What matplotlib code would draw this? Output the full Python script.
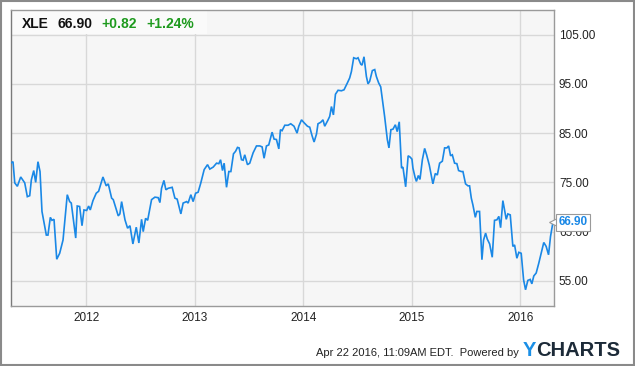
import matplotlib
matplotlib.use("Agg")
import matplotlib.pyplot as plt
from matplotlib.patches import Rectangle

plt.rcParams['font.family'] = ['Liberation Sans', 'DejaVu Sans']

ticker = "XLE"
last_price = 66.90
change = 0.82
change_pct = 1.24
timestamp = "Apr 22 2016, 11:09AM EDT.  Powered by"

years = [
    2011.308, 2011.323, 2011.339, 2011.363, 2011.394, 2011.431, 2011.455, 2011.477,
    2011.492, 2011.514, 2011.532, 2011.553, 2011.572, 2011.590, 2011.630, 2011.645,
    2011.667, 2011.682, 2011.701, 2011.726, 2011.753, 2011.784, 2011.823, 2011.845,
    2011.860, 2011.901, 2011.915, 2011.937, 2011.959, 2011.977, 2012.002, 2012.020,
    2012.035, 2012.060, 2012.090, 2012.112, 2012.152, 2012.182, 2012.201, 2012.232,
    2012.247, 2012.293, 2012.308, 2012.324, 2012.355, 2012.379, 2012.401, 2012.428,
    2012.459, 2012.483, 2012.508, 2012.523, 2012.545, 2012.564, 2012.600, 2012.631,
    2012.661, 2012.677, 2012.692, 2012.714, 2012.732, 2012.753, 2012.790, 2012.815,
    2012.836, 2012.870, 2012.891, 2012.923, 2012.937, 2012.962, 2012.983, 2013.006,
    2013.029, 2013.054, 2013.085, 2013.116, 2013.137, 2013.168, 2013.199, 2013.220,
    2013.236, 2013.254, 2013.269, 2013.291, 2013.312, 2013.331, 2013.355, 2013.374,
    2013.392, 2013.407, 2013.429, 2013.444, 2013.459, 2013.484, 2013.505, 2013.536,
    2013.567, 2013.598, 2013.619, 2013.637, 2013.659, 2013.680, 2013.711, 2013.729,
    2013.751, 2013.773, 2013.788, 2013.803, 2013.828, 2013.858, 2013.883, 2013.913,
    2013.941, 2013.957, 2013.982, 2014.006, 2014.037, 2014.058, 2014.079, 2014.098,
    2014.120, 2014.134, 2014.159, 2014.180, 2014.196, 2014.227, 2014.242, 2014.258,
    2014.276, 2014.295, 2014.319, 2014.350, 2014.374, 2014.405, 2014.426, 2014.442,
    2014.463, 2014.488, 2014.503, 2014.528, 2014.540, 2014.558, 2014.580, 2014.595,
    2014.610, 2014.635, 2014.657, 2014.672, 2014.693, 2014.712, 2014.748, 2014.773,
    2014.788, 2014.806, 2014.825, 2014.847, 2014.864, 2014.883, 2014.904, 2014.917,
    2014.942, 2014.965, 2014.985, 2015.000, 2015.009, 2015.029, 2015.041, 2015.059,
    2015.074, 2015.096, 2015.117, 2015.135, 2015.160, 2015.193, 2015.215, 2015.234,
    2015.255, 2015.280, 2015.301, 2015.322, 2015.338, 2015.356, 2015.372, 2015.393,
    2015.414, 2015.430, 2015.455, 2015.470, 2015.494, 2015.516, 2015.531, 2015.547,
    2015.562, 2015.584, 2015.598, 2015.623, 2015.645, 2015.660, 2015.679, 2015.694,
    2015.716, 2015.740, 2015.761, 2015.783, 2015.801, 2015.817, 2015.838, 2015.869,
    2015.884, 2015.906, 2015.930, 2015.946, 2015.967, 2015.985, 2016.007, 2016.029,
    2016.047, 2016.068, 2016.090, 2016.105, 2016.123, 2016.145, 2016.169, 2016.191,
    2016.215, 2016.237, 2016.259, 2016.277, 2016.298, 2016.305,
]
prices = [
    79.0, 79.2, 74.9, 74.2, 76.1, 74.9, 72.1, 72.3,
    75.5, 77.4, 75.0, 79.2, 77.2, 69.1, 64.3, 64.3,
    67.9, 67.3, 67.5, 59.4, 60.6, 63.3, 72.5, 71.1,
    70.8, 63.7, 70.2, 70.1, 66.2, 69.4, 69.3, 70.2,
    69.4, 71.3, 72.8, 73.2, 76.1, 74.3, 74.7, 71.8,
    71.5, 68.2, 68.6, 71.1, 67.4, 65.7, 66.2, 62.5,
    65.9, 62.7, 67.5, 65.0, 67.7, 67.3, 71.5, 72.0,
    71.9, 70.9, 73.8, 75.4, 73.5, 73.8, 74.0, 71.8,
    71.6, 68.6, 70.8, 71.1, 70.8, 72.5, 71.1, 72.8,
    73.0, 74.9, 77.6, 78.6, 77.7, 78.1, 78.9, 78.8,
    79.6, 77.4, 78.9, 74.0, 77.2, 77.2, 80.8, 81.3,
    82.1, 82.0, 79.6, 79.5, 80.6, 78.6, 78.9, 81.0,
    82.4, 82.4, 82.2, 79.9, 82.4, 82.6, 85.2, 83.8,
    83.7, 81.8, 85.7, 85.5, 86.6, 86.6, 86.9, 86.4,
    85.0, 86.4, 87.7, 87.1, 86.4, 86.2, 84.5, 83.2,
    84.8, 86.9, 87.2, 87.7, 86.4, 87.7, 88.4, 90.4,
    88.7, 92.9, 93.7, 93.6, 93.8, 95.2, 96.2, 97.5,
    100.3, 100.1, 100.3, 99.0, 98.8, 100.5, 96.5, 95.0,
    95.5, 97.7, 97.9, 96.5, 95.2, 94.4, 88.4, 83.7,
    82.0, 85.7, 85.8, 86.7, 85.3, 87.3, 77.9, 78.1,
    74.1, 80.4, 80.1, 79.7, 77.9, 76.0, 75.2, 76.4,
    75.6, 79.6, 81.9, 80.6, 78.5, 74.7, 76.8, 76.5,
    78.9, 79.3, 82.0, 82.0, 82.4, 80.4, 80.6, 78.9,
    78.8, 77.4, 77.2, 77.2, 74.7, 74.3, 74.3, 71.8,
    70.4, 67.9, 69.1, 69.1, 59.3, 63.3, 64.7, 63.5,
    62.5, 59.8, 67.3, 67.4, 68.1, 65.8, 71.3, 67.5,
    68.6, 68.4, 62.0, 62.3, 59.6, 60.8, 60.6, 55.2,
    53.2, 55.1, 55.3, 54.4, 56.0, 56.6, 58.6, 60.6,
    62.8, 62.0, 60.3, 64.0, 66.7, 66.9,
]
year_ticks = [2012, 2013, 2014, 2015, 2016]
year_labels = ["2012", "2013", "2014", "2015", "2016"]
price_ticks = [55, 65, 75, 85, 95, 105]

BLUE = "#1a88e6"
GREEN = "#1e9a1e"

fig = plt.figure(figsize=(6.35, 3.66), dpi=100)
fig.patch.set_facecolor("white")
ax = fig.add_axes([0.0169, 0.1639, 0.8555, 0.8088])
ax.set_facecolor("#f6f6f6")

ax.plot(years, prices, color=BLUE, lw=1.2, zorder=3, solid_joinstyle="miter")

ax.set_xlim(2011.302, 2016.309)
ax.set_ylim(49.9, 110.0)
ax.set_xticks(year_ticks)
ax.set_xticklabels(year_labels)
ax.set_yticks(price_ticks)
ax.set_yticklabels([f"{v:.2f}" for v in price_ticks])
ax.yaxis.tick_right()
ax.tick_params(axis="both", length=0, labelsize=8.5, colors="#222222")
ax.tick_params(axis="y", pad=3.6)
ax.tick_params(axis="x", pad=4.5)
ax.grid(True, color="#d8d8d8", lw=1.0, zorder=1)
ax.set_axisbelow(True)
for s in ax.spines.values():
    s.set_color("#9a9a9a")
    s.set_linewidth(1.0)
ax.spines["left"].set_color("#7a7a7a")

# header box
ax.add_patch(Rectangle((0, 1 - 0.0823), 0.361, 0.0823, transform=ax.transAxes,
                       facecolor="#fafafa", edgecolor="none", zorder=2))
hy = 0.934
fig.text(0.0346, hy, ticker, fontsize=10, fontweight="bold", color="#111111", va="center")
fig.text(0.0902, hy, f"{last_price:.2f}", fontsize=10, fontweight="bold", color="#111111", va="center")
fig.text(0.160, hy, f"+{change:.2f}", fontsize=10, fontweight="bold", color=GREEN, va="center")
fig.text(0.231, hy, f"+{change_pct:.2f}%", fontsize=10, fontweight="bold", color=GREEN, va="center")

# last value label
ax.plot([years[-1]], [prices[-1]], marker="<", markersize=7, markerfacecolor="white",
        markeredgecolor="#9a9a9a", markeredgewidth=0.8, clip_on=False, zorder=4,
        linestyle="none")
ax.annotate(f"{prices[-1]:.2f}", xy=(years[-1], prices[-1]), xytext=(5, 0),
            textcoords="offset pixels", ha="left", va="center", fontsize=8.5,
            fontweight="bold", color=BLUE, zorder=5, annotation_clip=False,
            bbox=dict(boxstyle="square,pad=0.2", facecolor="white", edgecolor="#9a9a9a", lw=0.8))

# footer
fig.text(519 / 635, 1 - 353 / 366, timestamp, fontsize=8, color="#222222", ha="right", va="center")
fy = 1 - 350 / 366
t1 = fig.text(523 / 635, fy, "Y", fontsize=14.5, fontweight="bold", color="#1a8fe6", va="center")
fig.canvas.draw()
bb = t1.get_window_extent()
fig.text(bb.x1 / fig.bbox.width, fy, "CHARTS", fontsize=14.5, fontweight="bold", color="#1c2a38", va="center")

# outer border
fig.patches.append(Rectangle((0.0015, 0.0025), 0.997, 0.995, transform=fig.transFigure,
                             fill=False, edgecolor="#8a8a8a", lw=1.5))

fig.savefig("out.png", dpi=100)
